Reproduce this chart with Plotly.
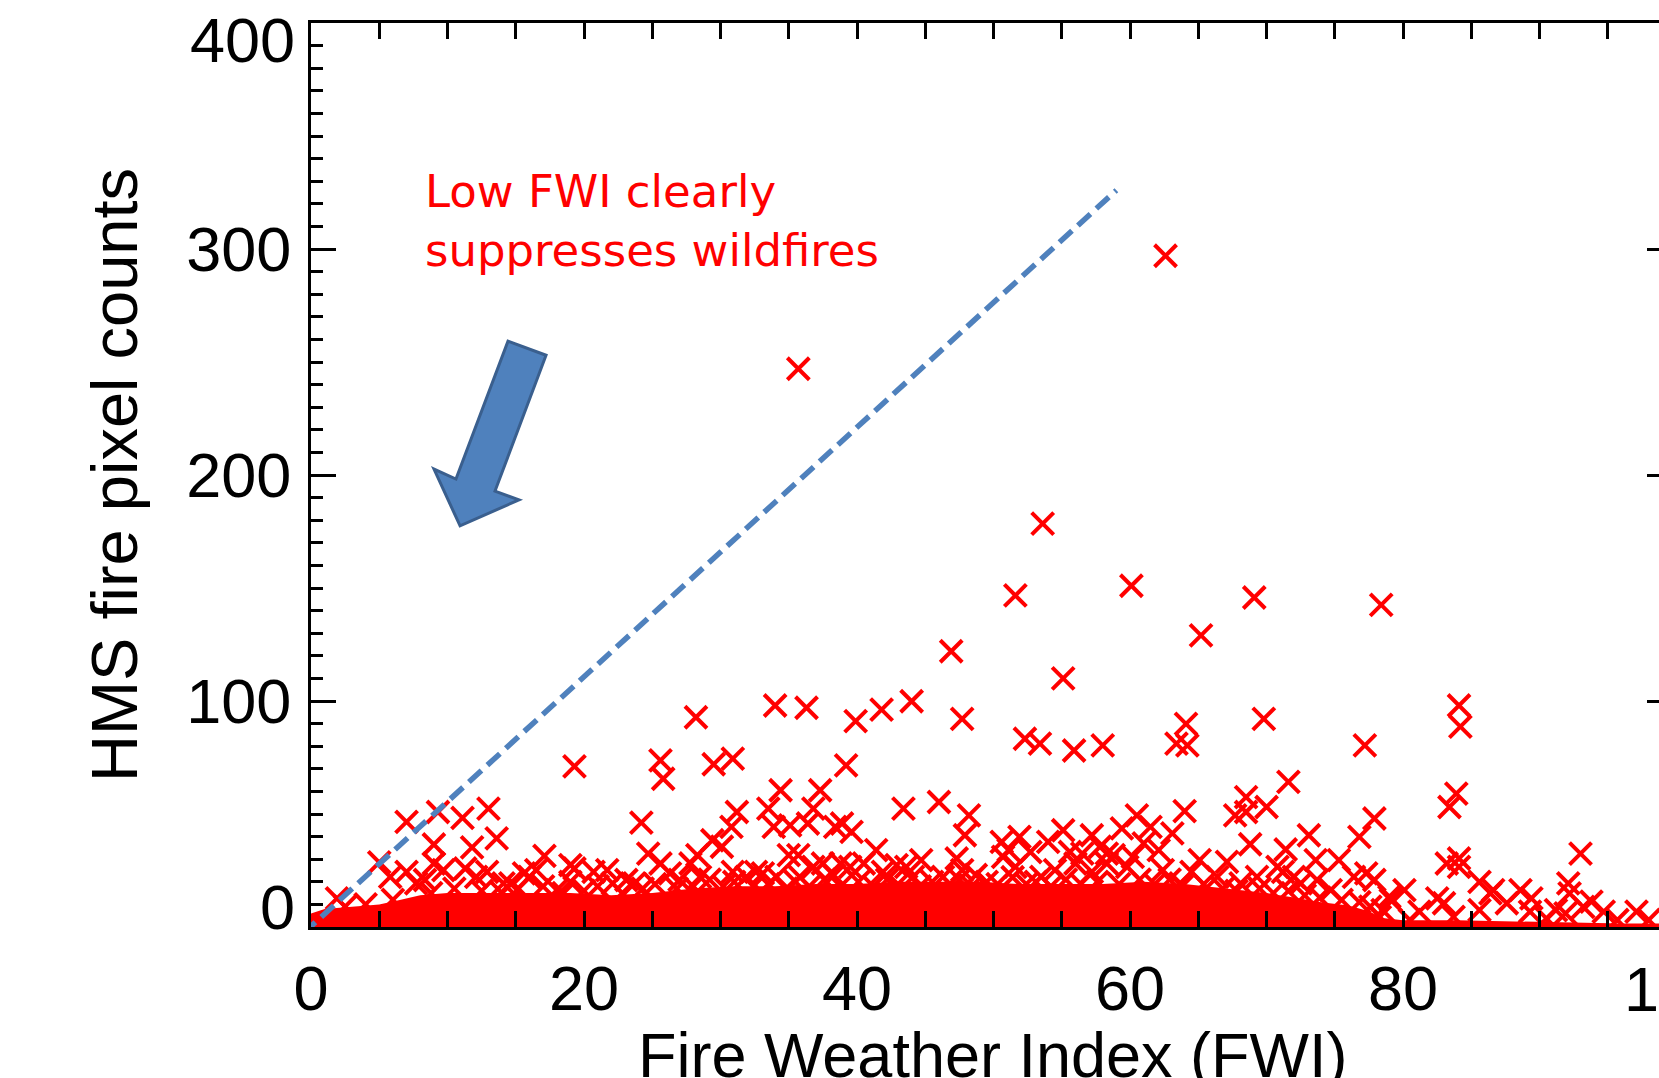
import plotly.graph_objects as go

# ---------------- data ----------------
# scattered HMS fire pixel counts vs FWI (visible markers)
fwi = [62.6, 35.7, 53.6, 51.6, 60.1, 69.1, 78.4, 65.2, 46.9, 55.1,
       44.0, 41.8, 34.0, 36.3, 84.1, 28.2, 39.9, 47.7, 69.8, 84.2,
       64.1, 63.4, 64.2, 52.3, 53.4, 55.9, 58.0, 77.2, 19.3, 25.6,
       25.8, 29.5, 30.9, 39.2, 71.6, 34.4, 37.3, 83.9, 68.5, 46.0,
       83.4, 70.0, 13.0, 33.5, 36.8, 43.4, 9.3, 31.2, 68.5, 64.0,
       48.2, 60.5, 67.7, 11.1, 77.9, 7.0, 24.2, 38.9, 36.4, 35.1,
       30.8, 33.9, 38.4, 61.5, 59.4, 55.1, 39.6, 63.1, 47.9, 57.2,
       73.1, 51.9, 76.8, 13.6, 29.4, 50.6, 54.0, 61.0, 68.8, 9.0,
       30.1, 57.8, 11.8, 71.4, 41.4, 62.1, 51.1, 52.7, 55.6, 93.0,
       24.7, 58.3, 56.5, 28.3, 35.0, 35.7, 58.8, 17.1, 50.7, 60.2,
       47.3, 84.1, 44.7, 65.1, 73.6, 75.3, 5.0, 9.0, 25.6, 37.5,
       38.8, 83.2, 67.1, 27.8, 40.5, 56.0, 58.3, 19.0, 42.9, 59.8,
       84.1, 36.8, 39.5, 43.6, 51.6, 70.8, 11.3, 19.3, 16.5, 21.7,
       62.4, 9.7, 47.7, 54.5, 7.0, 12.9, 20.7, 30.9, 71.2, 41.9,
       57.2, 64.5, 32.6, 15.6, 33.1, 77.3, 26.3, 48.7, 38.3, 5.8,
       12.1, 16.0, 28.5, 31.9, 34.1, 35.8, 44.1, 46.3, 53.5, 66.4,
       69.3, 72.0, 76.4, 8.35, 23.1, 27.0, 73.7, 77.9, 85.6, 19.0,
       14.1, 23.7, 72.5, 7.7, 14.6, 22.1, 63.7, 68.1, 92.1, 18.0,
       74.7, 86.6, 88.6, 80.1, 92.2, 86.4, 79.0, 1.9, 82.5, 89.4,
       79.1, 93.8, 87.6, 83.0, 93.2, 85.6, 78.5, 91.2, 94.7, 97.1,
       81.2, 89.3, 91.9, 83.7, 78.3, 90.5, 95.7, 98.0, 80.5,
       2.5, 4.0, 6.0, 8.8, 10.5, 12.5, 14.0, 15.2, 17.0, 18.5,
       20.0, 21.0, 22.8, 24.3, 25.2, 26.8, 28.0, 29.2, 30.2, 31.0,
       32.4, 33.5, 34.8, 35.5, 36.5, 37.6, 38.8, 40.1, 41.2, 42.2,
       43.0, 44.6, 45.5, 46.8, 47.5, 48.4, 49.5, 50.3, 51.4, 52.4,
       53.1, 54.2, 55.3, 56.4, 57.6, 59.2, 60.7, 61.8, 62.9, 63.8,
       65.4, 66.8, 67.8, 69.5, 70.5, 71.6, 72.8, 73.9, 75.5, 76.8,
       77.6]
counts = [297, 247, 178.5, 146.7, 151, 145.8, 142.5, 129, 122, 110,
          99.9, 96.2, 98.0, 97.0, 98.0, 92.8, 91.1, 92.1, 92.1, 88.7,
          89.9, 81.1, 80.4, 83.3, 81.1, 78.1, 80.4, 80.4, 71.1, 73.7,
          65.6, 72.0, 74.5, 71.5, 64.2, 60.5, 60.5, 59.0, 57.5, 55.3,
          53.1, 53.1, 52.4, 52.4, 52.4, 52.4, 50.9, 50.9, 50.9, 51.3,
          49.4, 49.4, 49.4, 48.3, 48.0, 46.5, 46.2, 45.8, 45.8, 45.0,
          44.3, 44.3, 44.3, 44.3, 43.6, 42.8, 42.1, 41.4, 40.6, 40.6,
          40.6, 39.9, 39.9, 39.2, 38.4, 37.7, 37.7, 37.0, 36.6, 36.5,
          35.5, 35.5, 35.2, 34.3, 34.0, 34.0, 34.0, 33.2, 33.2, 32.5,
          32.5, 32.5, 32.5, 31.8, 31.8, 31.8, 31.8, 31.5, 31.0, 31.0,
          30.3, 30.3, 29.6, 29.6, 29.6, 29.6, 28.6, 28.1, 28.1, 28.1,
          28.1, 28.1, 28.8, 28.1, 28.1, 28.1, 28.1, 27.4, 27.4, 26.6,
          26.6, 26.6, 26.6, 26.6, 26.6, 26.6, 25.9, 25.9, 25.2, 25.2,
          25.2, 25.2, 25.2, 25.2, 24.4, 24.4, 24.4, 24.4, 24.4, 24.4,
          24.4, 24.4, 24.4, 23.7, 23.7, 23.7, 23.7, 23.0, 22.9, 22.2,
          22.2, 22.2, 22.2, 22.2, 22.2, 22.2, 22.2, 22.2, 22.2, 22.2,
          22.2, 22.2, 22.2, 20.8, 20.8, 20.8, 20.8, 20.8, 20.0, 20.0,
          19.3, 19.3, 19.3, 19.3, 19.3, 19.3, 19.3, 19.3, 19.3, 16.3,
          16.3, 16.3, 16.3, 16.3, 14.9, 14.9, 13.4, 12.7, 12.7, 12.7,
          11.9, 11.2, 10.5, 10.5, 8.9, 7.5, 7.5, 7.5, 6.8, 6.8,
          6.8, 6.8, 6.0, 4.5, 4.5, 3.8, 3.1, 3.1, 3.1,
          9, 10, 12, 15, 17, 16, 15, 17, 18, 15,
          16, 18, 15, 17, 19, 17, 18, 21, 18, 20,
          18, 19, 17, 20, 18, 21, 18, 20, 18, 21,
          19, 18, 20, 19, 21, 18, 20, 19, 22, 19,
          20, 18, 21, 19, 20, 19, 21, 19, 21, 18,
          19, 17, 16, 17, 15, 16, 14, 13, 12, 11,
          9]

# upper edge of the solid (saturated) cloud of markers near zero
band_fwi = [0, 1, 3, 5, 6.5, 8, 10, 13, 16, 19, 22, 25, 28, 31, 34, 37, 40,
            43, 46, 49, 52, 55, 58, 61, 64, 67, 70, 72, 74, 76, 77.5, 78.5,
            80, 84, 88, 92, 96, 98.75]
band_top = [6, 8, 9, 10, 12, 14, 15, 15, 15, 15, 14, 15, 17, 18, 18, 19, 19,
            20, 20, 20, 19, 19, 19, 20, 19, 17, 15, 13, 11, 9.5, 7, 4,
            3, 3, 2.5, 2, 1.5, 1.5]

# dashed guide line
guide_fwi = [-0.6, 59.0]
guide_counts = [-3.0, 326.0]

# block arrow outline (data units)
arrow_fwi = [14.43, 17.22, 13.48, 15.24, 10.92, 9.01, 10.62]
arrow_counts = [259.2, 253.0, 192.9, 189.0, 177.5, 202.6, 198.2]

x_ticks = [0, 20, 40, 60, 80]
x_extra_tick = 100
y_ticks = [0, 100, 200, 300, 400]
y_ticktext = ["", "100", "200", "300", ""]
x_title = "Fire Weather Index (FWI)"
y_title = "HMS fire pixel counts"

XMAX = 98.75
YMAX = 400

RED = "#FF0000"
BLUE = "#4F81BD"
AX_FONT = "Liberation Sans, Arial, Helvetica, sans-serif"
TICK_SIZE = 63

fig = go.Figure()

fig.add_trace(go.Scatter(
    x=band_fwi, y=band_top, mode="lines", fill="tozeroy",
    fillcolor=RED, line=dict(color=RED, width=0),
    hoverinfo="skip", showlegend=False))

fig.add_trace(go.Scatter(
    x=fwi, y=counts, mode="markers",
    marker=dict(symbol="x-thin", size=22, color=RED,
                line=dict(color=RED, width=4)),
    showlegend=False))

fig.add_trace(go.Scatter(
    x=guide_fwi, y=guide_counts, mode="lines",
    line=dict(color=BLUE, width=5.5, dash="17px,8px"),
    hoverinfo="skip", showlegend=False))

# empty trace to carry the right-hand tick axis
fig.add_trace(go.Scatter(x=[None], y=[None], yaxis="y2",
                         showlegend=False, hoverinfo="skip"))

path = "M " + " L ".join(f"{a},{b}" for a, b in zip(arrow_fwi, arrow_counts)) + " Z"
fig.add_shape(type="path", path=path, xref="x", yref="y",
              fillcolor=BLUE, line=dict(color="#3A5F8E", width=3), layer="above")

fig.update_layout(
    width=1659, height=1078,
    margin=dict(l=311, r=0, t=23, b=151),
    paper_bgcolor="white", plot_bgcolor="white",
    font=dict(family=AX_FONT, color="black"),
    showlegend=False,
    xaxis=dict(
        range=[0, XMAX], tickvals=x_ticks, automargin=False,
        ticks="inside", ticklen=16, tickwidth=3, tickcolor="black",
        showline=True, linewidth=3, linecolor="black", mirror="allticks",
        showgrid=False, zeroline=False,
        tickfont=dict(size=TICK_SIZE, family=AX_FONT, color="black"),
        ticklabelstandoff=4,
        minor=dict(dtick=5, ticks="inside", ticklen=8, tickwidth=3,
                   tickcolor="black", showgrid=False),
    ),
    yaxis=dict(
        range=[0, YMAX], tickvals=y_ticks, ticktext=y_ticktext, automargin=False,
        ticks="inside", ticklen=25, tickwidth=3, tickcolor="black",
        showline=True, linewidth=3, linecolor="black", mirror=False,
        showgrid=False, zeroline=False,
        tickfont=dict(size=TICK_SIZE, family=AX_FONT, color="black"),
        ticklabelstandoff=4,
        minor=dict(dtick=10, ticks="inside", ticklen=12, tickwidth=3,
                   tickcolor="black", showgrid=False),
        title=dict(text=y_title,
                   font=dict(size=65, family=AX_FONT, color="black"),
                   standoff=28),
    ),
    yaxis2=dict(
        overlaying="y", side="right", range=[0, YMAX], automargin=False,
        tickvals=y_ticks[1:4], ticks="inside", ticklen=12, tickwidth=3,
        tickcolor="black", showticklabels=False, showline=False,
        showgrid=False, zeroline=False),
)

# x-axis title: sits low, partly cut by the bottom edge as in the original
fig.add_annotation(text=x_title, xref="paper", x=0.506, yref="paper", y=-0.1416,
                   xanchor="center", yanchor="middle", showarrow=False,
                   font=dict(size=63, family=AX_FONT, color="black"))

# end labels of the y axis sit inside the axis span, plus the cut-off "100"
fig.add_annotation(text=str(y_ticks[-1]), xref="paper", x=0, yref="y", y=y_ticks[-1],
                   xanchor="right", yanchor="middle", xshift=-14, yshift=-17,
                   showarrow=False, font=dict(size=TICK_SIZE, family=AX_FONT, color="black"))
fig.add_annotation(text=str(y_ticks[0]), xref="paper", x=0, yref="y", y=y_ticks[0],
                   xanchor="right", yanchor="middle", xshift=-14, yshift=20,
                   showarrow=False, font=dict(size=TICK_SIZE, family=AX_FONT, color="black"))
fig.add_annotation(text=str(x_extra_tick), xref="paper", x=x_extra_tick / XMAX,
                   yref="paper", y=0, xanchor="center", yanchor="middle", yshift=-62,
                   showarrow=False, font=dict(size=TICK_SIZE, family=AX_FONT, color="black"))

fig.add_annotation(text="Low FWI clearly<br>suppresses wildfires",
                   xref="x", x=8.2, yref="y", y=312.4,
                   xanchor="left", yanchor="middle", align="left", showarrow=False,
                   font=dict(size=45, family="DejaVu Sans, sans-serif", color=RED))

fig.write_html("out.html")
